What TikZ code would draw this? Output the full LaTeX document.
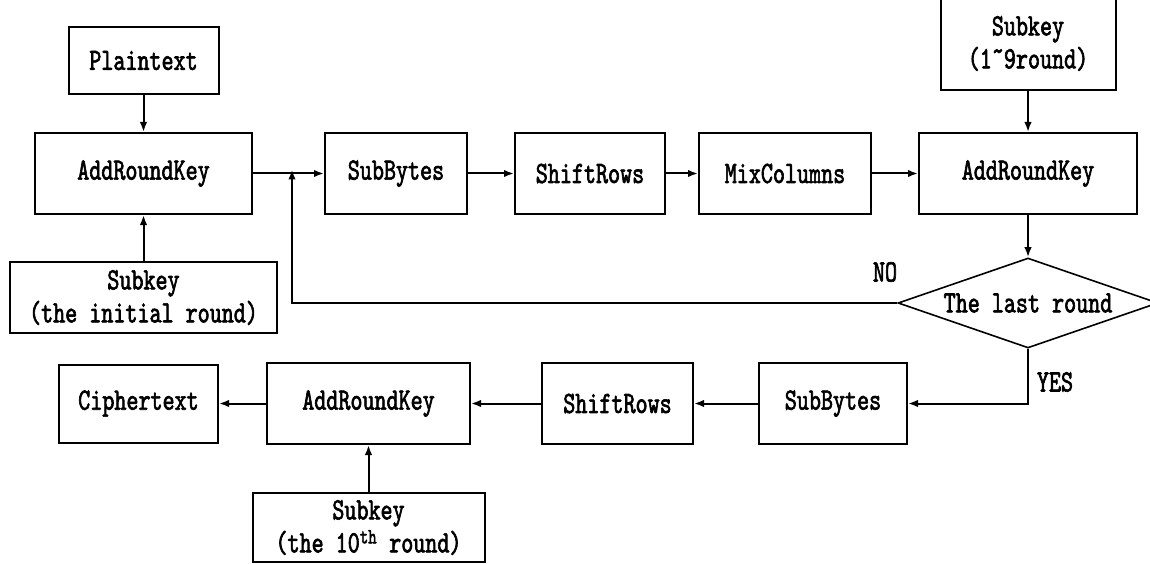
\documentclass[tikz,border=0pt]{standalone}
\usepackage{fontspec}
\newfontfamily\boxfont[FakeStretch=0.74,FakeBold=2]{lmmono10-regular.otf}
\usetikzlibrary{arrows.meta,shapes.geometric}
\tikzset{
  every node/.style={font=\boxfont\fontsize{31}{33}\selectfont, inner sep=0pt},
  stagebox/.style={draw, line width=2pt, rectangle, align=center},
  decision/.style={draw, line width=1.6pt, diamond, aspect=2.89,
    minimum width=260pt, minimum height=90pt},
  flow/.style={line width=2pt, -{Latex[length=10pt,width=7.5pt]}},
  tag/.style={}
}
\begin{document}
\begin{tikzpicture}[x=1pt,y=-1pt]
\useasboundingbox (0,0) rectangle (1150,564);

% encryption start
\node[stagebox, minimum width=150pt, minimum height=67pt] (plain) at (143.5,60.5) {Plaintext};
\node[stagebox, minimum width=217pt, minimum height=81pt] (ark1) at (143.5,173.5) {AddRoundKey};
\node[stagebox, minimum width=267pt, minimum height=71pt] (sk0) at (143.5,297.5) {Subkey\\(the initial round)};

% main rounds
\node[stagebox, minimum width=142pt, minimum height=81pt] (sb1) at (396,173.5) {SubBytes};
\node[stagebox, minimum width=150pt, minimum height=81pt] (sr1) at (590,173.5) {ShiftRows};
\node[stagebox, minimum width=172pt, minimum height=81pt] (mc) at (785,173.5) {MixColumns};
\node[stagebox, minimum width=218pt, minimum height=81pt] (ark2) at (1028,173.5) {AddRoundKey};
\node[stagebox, minimum width=175pt, minimum height=93pt] (sk19) at (1028,43.5) {Subkey\\(1˜9round)};

% round check
\node[decision] (dia) at (1028,303) {The last round};
\node[tag] (no) at (885,272) {NO};
\node[tag] (yes) at (1055,382) {YES};
\coordinate (join) at (292,173.5);

% final round
\node[stagebox, minimum width=148pt, minimum height=81pt] (sb2) at (833,403.5) {SubBytes};
\node[stagebox, minimum width=151pt, minimum height=81pt] (sr2) at (617.5,403.5) {ShiftRows};
\node[stagebox, minimum width=203pt, minimum height=81pt] (ark3) at (368.5,403.5) {AddRoundKey};
\node[stagebox, minimum width=159pt, minimum height=78pt] (ct) at (138.5,403.5) {Ciphertext};
\node[stagebox, minimum width=232pt, minimum height=69pt] (sk10) at (368.5,527.5) {Subkey\\(the 10\textsuperscript{th} round)};

% connectors
\draw[flow] (plain) -- (ark1);
\draw[flow] (sk0) -- (ark1);
\draw[flow] (ark1) -- (sb1);
\draw[flow] (sb1) -- (sr1);
\draw[flow] (sr1) -- (mc);
\draw[flow] (mc) -- (ark2);
\draw[flow] (sk19) -- (ark2);
\draw[flow] (ark2) -- (dia);
\draw[flow] (dia.west) -| ([yshift=4pt]join);
\draw[flow] (dia.south) |- (sb2.east);
\draw[flow] (sb2) -- (sr2);
\draw[flow] (sr2) -- (ark3);
\draw[flow] (ark3) -- (ct);
\draw[flow] (sk10) -- (ark3);
\end{tikzpicture}
\end{document}
